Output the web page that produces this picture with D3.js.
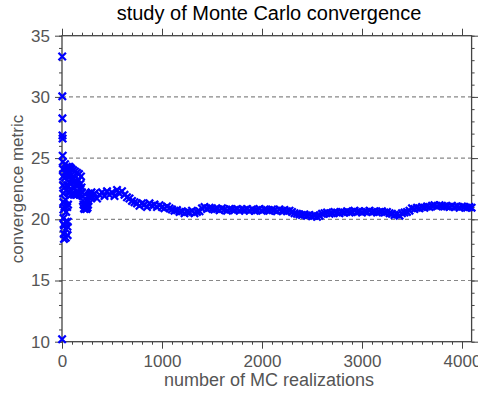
<!DOCTYPE html>
<html>
<head>
<meta charset="utf-8">
<script src="https://cdn.jsdelivr.net/npm/d3@7"></script>
<style>
  body { margin: 0; background: #fff; }
  text { font-family: "Liberation Sans", Arial, sans-serif; }
</style>
</head>
<body>
<div class="container"></div>
<script>
// first realizations
var earlyN = [1,2,3,4,5,6,7,8,9,10,11,12,13,14,15,16,
  18,20,22,24,26,28,30,32,34,36,38,40,42,44,46,48,50,52,54,56,58,60,62,64,66,68,70,72,
  75,78,81,84,87,90,93,96,100,104,108,112,116,120,
  125,130,135,140,145,150,155,160,165,170,175,180,185,190,195,200,205,210,215,220,
  225,230,235,240,245,250,255,260,265,270,275,280,285,290,295];
var earlyMetric = [10.2,33.3,30.05,28.25,26.85,26.6,25.2,24.7,24.1,23.5,22.8,22.1,21.4,20.8,20.1,19.6,
  18.8,18.4,19.5,21.0,22.6,23.8,24.5,23.4,21.6,19.8,18.5,19.2,20.6,22.4,23.9,24.3,22.8,21.0,19.4,18.7,19.8,21.2,22.7,24.1,23.5,22.3,23.8,24.3,
  23.0,22.2,23.5,24.2,22.9,22.0,23.3,24.1,23.2,22.1,23.4,24.0,22.6,22.0,
  23.1,23.9,22.8,22.0,23.0,23.8,22.7,22.1,23.2,23.7,22.5,22.0,22.9,23.5,22.6,22.2,21.9,21.5,21.2,20.9,
  20.85,21.1,20.9,21.0,20.85,21.1,20.95,21.2,21.5,21.8,22.0,21.8,22.1,21.9,22.2];

// later realizations, sampled along the band
var runN = [300,325,350,375,400,425,450,475,500,525,550,575,600,625,650,675,700,725,
  750,775,800,825,850,875,900,925,950,975,1000,1025,1050,1075,1100,1125,1150,1175,
  1200,1225,1250,1275,1300,1325,1350,1375,1400,1425,1450,1475,1500,1525,
  1550,1575,1600,1625,1650,1675,1700,1725,1750,1775,1800,1825,1850,1875,
  1900,1925,1950,1975,2000,2025,2050,2075,2100,2125,2150,2175,2200,2225,2250,2275,
  2300,2325,2350,2375,2400,2425,2450,2475,2500,2525,2550,2575,2600,2625,2650,2675,
  2700,2725,2750,2775,2800,2825,2850,2875,2900,2925,2950,2975,
  3000,3025,3050,3075,3100,3125,3150,3175,3200,3225,3250,3275,
  3300,3325,3350,3375,3400,3425,3450,3475,3500,3525,3550,3575,3600,3625,3650,3675,
  3700,3725,3750,3775,3800,3825,3850,3875,3900,3925,3950,3975,4000,4025,4050,4075,4096];
var runMetric = [21.9,22.1,21.7,22.0,22.2,21.9,22.3,22.0,22.2,21.9,22.4,22.1,22.3,22.0,21.8,21.7,21.5,21.4,
  21.3,21.1,21.3,21.2,21.0,21.3,21.1,21.2,21.0,21.15,21.0,20.9,21.05,20.9,20.8,20.7,20.75,20.6,
  20.65,20.5,20.6,20.55,20.7,20.5,20.6,20.65,20.9,21.0,20.85,20.95,20.9,20.8,
  20.85,20.75,20.9,20.8,20.7,20.85,20.8,20.75,20.85,20.7,20.8,20.75,20.85,20.7,
  20.8,20.7,20.75,20.85,20.7,20.8,20.75,20.7,20.8,20.75,20.65,20.8,20.7,20.75,20.65,20.7,
  20.6,20.5,20.45,20.4,20.35,20.4,20.3,20.35,20.25,20.3,20.2,20.3,20.45,20.5,20.55,20.45,
  20.5,20.6,20.55,20.5,20.6,20.55,20.65,20.55,20.6,20.7,20.6,20.65,
  20.55,20.65,20.6,20.7,20.6,20.65,20.55,20.6,20.65,20.55,20.6,20.5,
  20.45,20.35,20.4,20.3,20.5,20.55,20.6,20.7,20.9,20.85,20.95,20.9,21.0,20.95,21.05,21.0,
  21.1,21.15,21.05,21.15,21.1,21.05,21.05,21.0,21.1,21.0,21.05,20.95,21.05,21.0,20.95,21.0,20.95];

var xTicks = [0,1000,2000,3000,4000];
var yTicks = [10,15,20,25,30,35];
var gridValues = [15,20,25,30];

var width = 478, height = 394;
var plotLeft = 62, plotRight = 471.6, plotTop = 35.7, plotBottom = 341.7;
var axisColor = "#444", labelColor = "#555";

var points = [];
for (var i = 0; i < earlyN.length; i++) points.push({n: earlyN[i], v: earlyMetric[i]});
for (var j = 0; j < runN.length; j++) points.push({n: runN[j], v: runMetric[j]});

var x = d3.scaleLinear().domain([0, 4096]).range([plotLeft, plotRight]);
var y = d3.scaleLinear().domain([10, 35]).range([plotBottom, plotTop]);

var svg = d3.select('.container')
    .append('svg').attr('width', width).attr('height', height);

// dashed horizontal grid
svg.append('g').selectAll('line').data(gridValues).enter().append('line')
    .attr('x1', plotLeft).attr('x2', plotRight)
    .attr('y1', function(d) { return y(d); }).attr('y2', function(d) { return y(d); })
    .attr('stroke', '#888').attr('stroke-width', 1.2).attr('stroke-dasharray', '4,3');

var minorX = d3.range(0, 4097, 100);
var minorY = d3.range(10, 35.01, 1);

var styleAxis = function(g) {
  g.select('.domain').remove();
  g.selectAll('line').attr('stroke', axisColor).attr('stroke-width', 1);
  g.selectAll('text').attr('fill', labelColor).style('font-size', '17px');
};

// bottom and top axes: minor then major ticks, all outward
svg.append('g').attr('transform', 'translate(0,' + plotBottom + ')')
    .call(d3.axisBottom(x).tickValues(minorX).tickSize(3).tickFormat(''))
    .call(styleAxis);
svg.append('g').attr('transform', 'translate(0,' + plotBottom + ')')
    .call(d3.axisBottom(x).tickValues(xTicks).tickSize(7).tickPadding(6).tickFormat(d3.format('d')))
    .call(styleAxis);
svg.append('g').attr('transform', 'translate(0,' + plotTop + ')')
    .call(d3.axisTop(x).tickValues(minorX).tickSize(3).tickFormat(''))
    .call(styleAxis);
svg.append('g').attr('transform', 'translate(0,' + plotTop + ')')
    .call(d3.axisTop(x).tickValues(xTicks).tickSize(7).tickFormat(''))
    .call(styleAxis);

// left and right axes
svg.append('g').attr('transform', 'translate(' + plotLeft + ',0)')
    .call(d3.axisLeft(y).tickValues(minorY).tickSize(3).tickFormat(''))
    .call(styleAxis);
svg.append('g').attr('transform', 'translate(' + plotLeft + ',0)')
    .call(d3.axisLeft(y).tickValues(yTicks).tickSize(7).tickPadding(5).tickFormat(d3.format('d')))
    .call(styleAxis);
svg.append('g').attr('transform', 'translate(' + plotRight + ',0)')
    .call(d3.axisRight(y).tickValues(minorY).tickSize(3).tickFormat(''))
    .call(styleAxis);
svg.append('g').attr('transform', 'translate(' + plotRight + ',0)')
    .call(d3.axisRight(y).tickValues(yTicks).tickSize(7).tickFormat(''))
    .call(styleAxis);

// frame
svg.append('rect')
    .attr('x', plotLeft).attr('y', plotTop)
    .attr('width', plotRight - plotLeft).attr('height', plotBottom - plotTop)
    .attr('fill', 'none').attr('stroke', axisColor).attr('stroke-width', 1.3);

// x markers
svg.append('g').selectAll('path').data(points).enter().append('path')
    .attr('transform', function(d) { return 'translate(' + x(d.n) + ',' + y(d.v) + ')'; })
    .attr('d', 'M-3.7,-3.7L3.7,3.7M-3.7,3.7L3.7,-3.7')
    .attr('fill', 'none').attr('stroke', '#0000ff').attr('stroke-width', 2.3);

// title and axis labels
svg.append('text').attr('x', 269).attr('y', 20).attr('text-anchor', 'middle')
    .attr('fill', '#000').style('font-size', '20px')
    .text('study of Monte Carlo convergence');
svg.append('text').attr('x', 269).attr('y', 386).attr('text-anchor', 'middle')
    .attr('fill', labelColor).style('font-size', '18px')
    .text('number of MC realizations');
svg.append('text').attr('transform', 'translate(23,189) rotate(-90)').attr('text-anchor', 'middle')
    .attr('fill', labelColor).style('font-size', '17px')
    .text('convergence metric');
</script>
</body>
</html>
